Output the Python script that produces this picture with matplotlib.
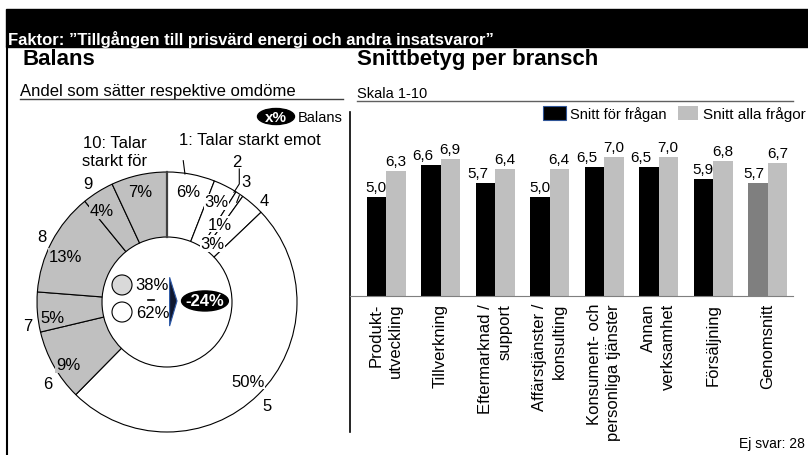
import numpy as np
import matplotlib
matplotlib.use("Agg")
import matplotlib.pyplot as plt
from matplotlib.patches import Ellipse, Circle, Polygon, Rectangle

plt.rcParams['font.family'] = ['Liberation Sans', 'DejaVu Sans']

# ---- data ----
title = "Faktor: \u201dTillgången till prisvärd energi och andra insatsvaror\u201d"
grades = [1, 2, 3, 4, 5, 6, 7, 8, 9, 10]
grade_names = ["1: Talar starkt emot", "2", "3", "4", "5", "6", "7", "8", "9",
               "10: Talar\nstarkt för"]
shares = [6, 3, 1, 3, 50, 9, 5, 13, 4, 7]
share_for = 38
share_against = 62
balance = -24

branches = ["Produkt-\nutveckling", "Tillverkning", "Eftermarknad /\nsupport",
            "Affärstjänster /\nkonsulting", "Konsument- och\npersonliga tjänster",
            "Annan\nverksamhet", "Försäljning", "Genomsnitt"]
avg_question = [5.0, 6.6, 5.7, 5.0, 6.5, 6.5, 5.9, 5.7]
avg_all = [6.3, 6.9, 6.4, 6.4, 7.0, 7.0, 6.8, 6.7]
series_names = ["Snitt för frågan", "Snitt alla frågor"]
no_answer = 28

# ---- layout ----
W, H = 808, 456
GRAY = "#c0c0c0"
BARGRAY = "#bfbfbf"

fig = plt.figure(figsize=(W / 100, H / 100), dpi=100)

# background / frame axes in pixel coordinates
bg = fig.add_axes([0, 0, 1, 1])
bg.set_xlim(0, W)
bg.set_ylim(H, 0)
bg.axis("off")

bg.add_patch(Rectangle((6, 10), W - 6, 38, color="black"))
bg.text(8, 45.5, title, color="white", fontsize=12, fontweight="bold", va="baseline")
bg.plot([7, 7], [48, H], color="black", lw=1.5)
bg.plot([350, 350], [113, 433], color="black", lw=1.2)

bg.text(22, 65, "Balans", fontsize=16, fontweight="bold", va="baseline")
bg.text(20, 96, "Andel som sätter respektive omdöme", fontsize=12, va="baseline")
bg.plot([20, 343], [100, 100], color="#404040", lw=1)
bg.add_patch(Ellipse((276, 117.5), 37, 16, color="black"))
bg.text(276, 118, "x%", color="white", fontweight="bold", fontsize=11,
        ha="center", va="center")
bg.text(298, 118, "Balans", fontsize=10.5, va="center")

bg.text(357, 65, "Snittbetyg per bransch", fontsize=16, fontweight="bold", va="baseline")
bg.text(357, 98, "Skala 1-10", fontsize=10.5, va="baseline")
bg.plot([357, 793], [102, 102], color="#606060", lw=1)

bg.add_patch(Rectangle((543, 107), 23, 14, fc="black", ec="#2f5597", lw=0.8))
bg.text(570, 114.5, series_names[0], va="center", fontsize=10.5)
bg.add_patch(Rectangle((678, 107), 20, 14, fc=BARGRAY, ec="none"))
bg.text(703, 114.5, series_names[1], va="center", fontsize=11)

bg.text(805, 444, f"Ej svar: {no_answer}", ha="right", va="center", fontsize=10)

# ---- donut ----
cx, cy, R, half = 167, 303, 130, 135
pie_ax = fig.add_axes([(cx - half) / W, 1 - (cy + half) / H, 2 * half / W, 2 * half / H])
pie_ax.set_facecolor("none")
colors = ["white" if g <= 5 else GRAY for g in grades]
pie_ax.pie(shares, colors=colors, startangle=90, counterclock=False, radius=1,
           wedgeprops=dict(width=0.5, edgecolor="black", linewidth=0.8))
lim = half / R
pie_ax.set_xlim(-lim, lim)
pie_ax.set_ylim(-lim, lim)
pie_ax.plot([0, 0], [0.5, 1], color="#404040", lw=1.6)

pct_xy = [(0.16, 0.85), (0.38, 0.77), (0.41, 0.60), (0.35, 0.45), (0.62, -0.61),
          (-0.76, -0.48), (-0.88, -0.12), (-0.78, 0.35), (-0.50, 0.70), (-0.21, 0.85)]
cat_xy = [(0.635, 1.25), (0.54, 1.08), (0.61, 0.93), (0.75, 0.78), (0.77, -0.80),
          (-0.92, -0.63), (-1.07, -0.18), (-0.96, 0.50), (-0.61, 0.91), (-0.40, 1.158)]

# leader lines
pie_ax.plot([0.138, 0.125], [0.985, 1.087], color="black", lw=0.8, clip_on=False)
pie_ax.plot([0.556, 0.556, 0.515], [1.023, 0.908, 0.844], color="black", lw=0.8, clip_on=False)
pie_ax.plot([0.556, 0.536], [0.818, 0.767], color="black", lw=0.8)

for s, c, (x, y) in zip(shares, colors, pct_xy):
    pie_ax.text(x, y, f"{s}%", fontsize=12, ha="center", va="center",
                bbox=dict(fc=c, ec="none", pad=0.5))
for name, (x, y) in zip(grade_names, cat_xy):
    pie_ax.text(x, y, name, fontsize=12, ha="center", va="center",
                multialignment="center", clip_on=False)

# center summary
pie_ax.add_patch(Circle((-0.346, 0.131), 0.077, fc="#d9d9d9", ec="black", lw=0.8))
pie_ax.add_patch(Circle((-0.346, -0.077), 0.077, fc="white", ec="black", lw=0.8))
pie_ax.text(-0.112, 0.131, f"{share_for}%", fontsize=12, ha="center", va="center")
pie_ax.text(-0.112, -0.080, f"{share_against}%", fontsize=12, ha="center", va="center")
pie_ax.plot([-0.148, -0.098], [0.014, 0.014], color="black", lw=1.2)
pie_ax.add_patch(Polygon([(0.020, 0.19), (0.077, 0.008), (0.020, -0.185)],
                         closed=True, fc="#101830", ec="#2e5aa8", lw=0.8))
pie_ax.add_patch(Ellipse((0.292, 0.008), 0.36, 0.154, color="black"))
pie_ax.text(0.292, 0.008, f"{balance}%", color="white", fontsize=12,
            fontweight="bold", ha="center", va="center")

# ---- bars ----
base_y, ppu, ymax = 297, 19.9, 8
x0_px, x1_px = 350, 793
step, first = 54.5, 386
bar_ax = fig.add_axes([x0_px / W, 1 - base_y / H, (x1_px - x0_px) / W, ppu * ymax / H])
bar_ax.set_facecolor("none")
bar_ax.set_xlim((x0_px - first) / step, (x1_px - first) / step)
bar_ax.set_ylim(0, ymax)

x = np.arange(len(branches))
w = 19.5 / step
q_colors = ["black"] * (len(branches) - 1) + ["#7f7f7f"]
b1 = bar_ax.bar(x - w / 2, avg_question, w, color=q_colors)
b2 = bar_ax.bar(x + w / 2, avg_all, w, color=BARGRAY)

q_dx = [0, -8, -7, 0, -7, -8, 0, -4]
for rect, v, dx in zip(b1, avg_question, q_dx):
    bar_ax.annotate(f"{v:.1f}".replace(".", ","),
                    (rect.get_x() + rect.get_width() / 2, v),
                    xytext=(dx * 0.72, 2), textcoords="offset points",
                    ha="center", va="bottom", fontsize=11)
for rect, v in zip(b2, avg_all):
    bar_ax.annotate(f"{v:.1f}".replace(".", ","),
                    (rect.get_x() + rect.get_width() / 2, v),
                    xytext=(0, 2), textcoords="offset points",
                    ha="center", va="bottom", fontsize=11)

for sp in ["top", "left", "right"]:
    bar_ax.spines[sp].set_visible(False)
bar_ax.spines["bottom"].set_color("#7f7f7f")
bar_ax.set_yticks([])
bar_ax.set_xticks(x)
bar_ax.set_xticklabels(branches, rotation=90, fontsize=12)
for t in bar_ax.get_xticklabels():
    t.set_multialignment("right")
    t.set_linespacing(1.35)
bar_ax.tick_params(axis="x", length=0, pad=5)

fig.savefig("out.png", dpi=100)
